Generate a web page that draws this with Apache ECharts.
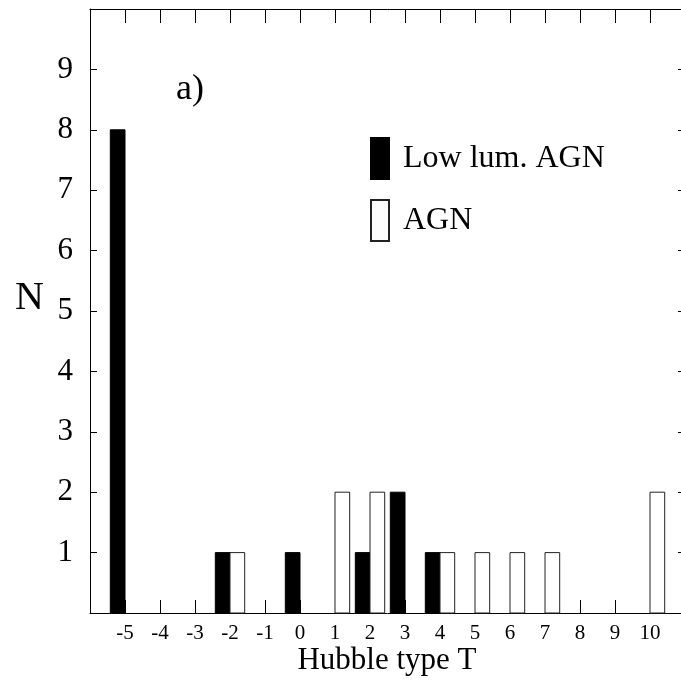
<!DOCTYPE html>
<html>
<head>
<meta charset="utf-8">
<script src="https://cdn.jsdelivr.net/npm/echarts@6/dist/echarts.min.js"></script>
<style>html,body{margin:0;padding:0;background:#fff;overflow:hidden;}#c{width:700px;height:688px;}</style>
</head>
<body>
<div id="c"></div>
<script>
const hubbleTypes = [-5, -4, -3, -2, -1, 0, 1, 2, 3, 4, 5, 6, 7, 8, 9, 10];
const lowLumAGN   = [ 8,  0,  0,  1,  0, 1, 0, 1, 2, 1, 0, 0, 0, 0, 0, 0];
const agnCounts   = [ 0,  0,  0,  1,  0, 0, 2, 2, 0, 1, 1, 1, 1, 0, 0, 2];
const yTickLabels = [1, 2, 3, 4, 5, 6, 7, 8, 9];

const FONT = '"Liberation Serif", "Times New Roman", serif';
const BAR_W = 0.42;

function pairs(vals) {
  return hubbleTypes.map((t, i) => [t, vals[i]]).filter(d => d[1] > 0);
}
function makeRender(side) {
  return function (params, api) {
    const x = api.value(0), y = api.value(1);
    const xa = side < 0 ? x - BAR_W : x;
    const xb = side < 0 ? x : x + BAR_W;
    const p0 = api.coord([xa, y]);
    const p1 = api.coord([xb, 0]);
    return {
      type: 'rect',
      shape: { x: p0[0], y: p0[1], width: p1[0] - p0[0], height: p1[1] - p0[1] },
      style: api.style()
    };
  };
}

const chart = echarts.init(document.getElementById('c'), null, { renderer: 'canvas' });
const axisLine = { show: true, onZero: false, lineStyle: { color: '#000', width: 1 } };
chart.setOption({
  backgroundColor: '#fff',
  animation: false,
  textStyle: { fontFamily: FONT },
  grid: { left: 90, top: 9, width: 595, height: 604, containLabel: false },
  xAxis: [{
    type: 'value', min: -6, max: 11, interval: 1, position: 'bottom',
    axisLine: axisLine, splitLine: { show: false },
    axisTick: { show: true, inside: true, length: 13, lineStyle: { color: '#000' } },
    axisLabel: {
      color: '#000', fontSize: 21, fontFamily: FONT, margin: 10,
      formatter: v => hubbleTypes.includes(v) ? String(v) : ''
    }
  }, {
    type: 'value', min: -6, max: 11, interval: 1, position: 'top',
    axisLine: axisLine, splitLine: { show: false },
    axisTick: { show: true, inside: true, length: 14, lineStyle: { color: '#000' } },
    axisLabel: { show: false }
  }],
  yAxis: [{
    type: 'value', min: 0, max: 10, interval: 1, position: 'left',
    axisLine: axisLine, splitLine: { show: false },
    axisTick: { show: true, inside: true, length: 7, lineStyle: { color: '#000' } },
    axisLabel: {
      color: '#000', fontSize: 31, fontFamily: FONT, margin: 17,
      formatter: v => yTickLabels.includes(v) ? String(v) : ''
    }
  }, {
    type: 'value', min: 0, max: 10, interval: 1, position: 'right',
    axisLine: axisLine, splitLine: { show: false },
    axisTick: { show: true, inside: true, length: 7, lineStyle: { color: '#000' } },
    axisLabel: { show: false }
  }],
  legend: {
    orient: 'vertical', left: 370, top: 137, padding: 0,
    itemWidth: 18, itemHeight: 41, itemGap: 19, icon: 'rect',
    textStyle: { fontSize: 32, fontFamily: FONT, color: '#000', padding: [4, 0, 0, 9] },
    data: ['Low lum. AGN', 'AGN']
  },
  series: [{
    name: 'Low lum. AGN', type: 'custom', xAxisIndex: 0, yAxisIndex: 0, z: 5,
    renderItem: makeRender(-1),
    itemStyle: { color: '#000', borderColor: '#000', borderWidth: 1 },
    encode: { x: 0, y: 1 },
    data: pairs(lowLumAGN)
  }, {
    name: 'AGN', type: 'custom', xAxisIndex: 0, yAxisIndex: 0, z: 5,
    renderItem: makeRender(1),
    itemStyle: { color: '#fff', borderColor: '#222', borderWidth: 1 },
    encode: { x: 0, y: 1 },
    data: pairs(agnCounts)
  }],
  graphic: [
    { type: 'text', left: 15, top: 278, style: { text: 'N', font: '40px ' + FONT, fill: '#000' } },
    { type: 'text', left: 176, top: 72, style: { text: 'a)', font: '36px ' + FONT, fill: '#000' } },
    { type: 'text', x: 387, y: 661, style: { text: 'Hubble type T', font: '31px ' + FONT, fill: '#000', textAlign: 'center', textVerticalAlign: 'middle' } }
  ]
});
</script>
</body>
</html>
